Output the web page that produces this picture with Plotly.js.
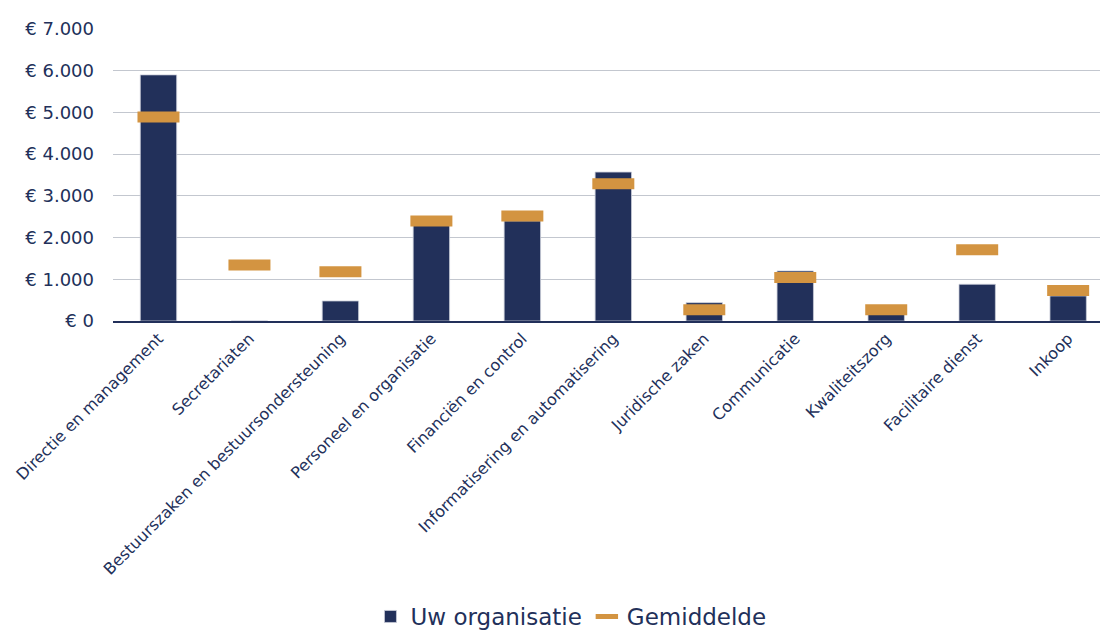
<!DOCTYPE html>
<html>
<head>
<meta charset="utf-8">
<script src="https://cdn.plot.ly/plotly-3.0.1.min.js"></script>
<style>html,body{margin:0;padding:0;background:#fff;}#chart{width:1100px;height:633px;}</style>
</head>
<body>
<div id="chart"></div>
<script>
const categories = [
  "Directie en management",
  "Secretariaten",
  "Bestuurszaken en bestuursondersteuning",
  "Personeel en organisatie",
  "Financiën en control",
  "Informatisering en automatisering",
  "Juridische zaken",
  "Communicatie",
  "Kwaliteitszorg",
  "Facilitaire dienst",
  "Inkoop"
];
const uwOrganisatie = [5900, 0, 480, 2300, 2400, 3570, 440, 1200, 200, 880, 600];
const gemiddelde = [4890, 1340, 1180, 2400, 2520, 3290, 270, 1040, 270, 1710, 730];
const yTicks = [0, 1000, 2000, 3000, 4000, 5000, 6000, 7000];
const yTickText = ["€ 0", "€ 1.000", "€ 2.000", "€ 3.000", "€ 4.000", "€ 5.000", "€ 6.000", "€ 7.000"];

const navy = "#22305A";
const orange = "#D39441";
const font = "DejaVu Sans, Verdana, sans-serif";

const traces = [
  {
    type: "bar",
    name: "Uw organisatie",
    x: categories,
    y: uwOrganisatie,
    width: 0.4,
    marker: {color: navy, line: {color: "#c9cdd8", width: 0.8}},
    hoverinfo: "x+y"
  },
  {
    type: "scatter",
    mode: "markers",
    name: "Gemiddelde",
    x: categories,
    y: gemiddelde,
    marker: {symbol: "line-ew", size: 30, color: orange, line: {color: orange, width: 11}},
    hoverinfo: "x+y"
  }
];

const layout = {
  width: 1100,
  height: 633,
  margin: {l: 113, r: 0, t: 29, b: 312, autoexpand: false},
  paper_bgcolor: "#fff",
  plot_bgcolor: "#fff",
  font: {family: font, color: navy},
  showlegend: true,
  legend: {
    orientation: "h",
    x: 0.464, xanchor: "center",
    y: -1.012, yanchor: "middle",
    font: {family: font, size: 23, color: navy},
    itemwidth: 30,
    traceorder: "normal"
  },
  xaxis: {
    type: "category",
    range: [-0.5, 10.35],
    tickangle: -45,
    tickfont: {family: font, size: 16, color: navy},
    showgrid: false,
    showline: true,
    linecolor: navy,
    linewidth: 2,
    ticks: "",
    automargin: false,
    fixedrange: true
  },
  yaxis: {
    range: [0, 7000],
    tickmode: "array",
    tickvals: yTicks,
    ticktext: yTickText,
    tickfont: {family: font, size: 18, color: navy},
    showgrid: true,
    gridcolor: "#c3c7cf",
    gridwidth: 1,
    zeroline: false,
    showline: false,
    ticks: "",
    ticklabelstandoff: 18,
    automargin: false,
    fixedrange: true
  },
  bargap: 0.6
};

Plotly.newPlot("chart", traces, layout, {displayModeBar: false, staticPlot: true});
</script>
</body>
</html>
